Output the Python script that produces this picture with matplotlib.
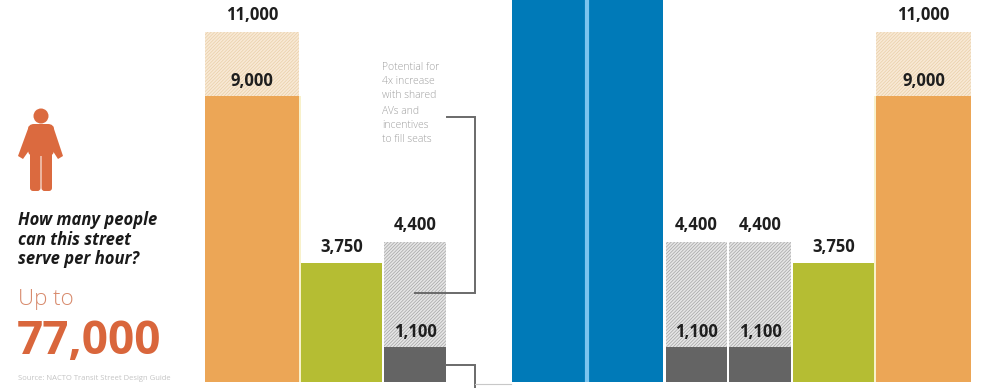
import matplotlib
matplotlib.use('Agg')
import matplotlib.pyplot as plt
from matplotlib.patches import Circle, FancyBboxPatch, Polygon

# People per hour for each lane, left to right across the street
lane_values = [9000, 3750, 1100, 17150, 17150, 1100, 1100, 3750, 9000]
lane_potential = [11000, None, 4400, None, None, 4400, 4400, None, 11000]
lane_kinds = ['walk', 'bike', 'car', 'transit', 'transit', 'car', 'car', 'bike', 'walk']
total_label = '77,000'

# Lane edges in pixels
lefts = [205, 301, 384, 512, 589, 666, 729, 793, 876]
rights = [299, 382, 446, 585, 663, 727, 791, 874, 971]

solid = {'walk': '#eca656', 'bike': '#b5bd33', 'car': '#646464', 'transit': '#007ab8'}
pale = {'walk': '#f8e9d5', 'car': '#e6e6e6'}
hatch_col = {'walk': '#e9cfa8', 'car': '#a4a4a4'}

PX_PER_UNIT = 0.0318
BASE_Y = 382
W, H = 983, 388

plt.rcParams['font.family'] = ['Open Sans', 'DejaVu Sans']
plt.rcParams['hatch.linewidth'] = 0.5

fig = plt.figure(figsize=(W / 100, H / 100), dpi=100)
ax = fig.add_axes([0, 0, 1, 1])
ax.set_xlim(0, W)
ax.set_ylim(-(H - BASE_Y) / PX_PER_UNIT, BASE_Y / PX_PER_UNIT)
ax.axis('off')

# Overlay in pixel coordinates for the annotation bits
ov = fig.add_axes([0, 0, 1, 1], facecolor='none')
ov.set_xlim(0, W)
ov.set_ylim(H, 0)
ov.axis('off')

for x0, x1, val, pot, kind in zip(lefts, rights, lane_values, lane_potential, lane_kinds):
    width = x1 - x0
    if pot is not None:
        ax.bar(x0, pot, width=width, align='edge', color=pale[kind],
               edgecolor=hatch_col[kind], hatch='//////////', linewidth=0)
        ax.annotate(f'{pot:,}', (x0 + width / 2, pot), xytext=(0, 12.5), textcoords='offset points',
                    ha='center', va='center', fontsize=12, fontweight='bold', color='#1e1e1e')
    ax.bar(x0, val, width=width, align='edge', color=solid[kind], linewidth=0)
    if kind != 'transit':
        ax.annotate(f'{val:,}', (x0 + width / 2, val), xytext=(0, 11), textcoords='offset points',
                    ha='center', va='center', fontsize=12, fontweight='bold', color='#1e1e1e')

# Thin separators between lanes
ov.plot([587, 587], [0, BASE_Y], color='#7cc4ee', lw=3, solid_capstyle='butt')
for x in [300, 875]:
    ov.plot([x, x], [96, BASE_Y], color='#f7efc0', lw=1.2, solid_capstyle='butt')

# Person icon
person = '#db6a3f'
ov.add_patch(Circle((41, 116), 7.5, color=person, linewidth=0))
ov.add_patch(FancyBboxPatch((28, 124), 26, 32, boxstyle='round,pad=0,rounding_size=6',
                            color=person, linewidth=0))
ov.add_patch(Polygon([(29, 126), (18, 156), (23, 159), (35, 142)], closed=True, color=person, linewidth=0))
ov.add_patch(Polygon([(53, 126), (63, 156), (58, 159), (47, 142)], closed=True, color=person, linewidth=0))
ov.add_patch(FancyBboxPatch((30, 150), 10.5, 41, boxstyle='round,pad=0,rounding_size=3',
                            color=person, linewidth=0))
ov.add_patch(FancyBboxPatch((41.5, 150), 10.5, 41, boxstyle='round,pad=0,rounding_size=3',
                            color=person, linewidth=0))

for y, line in zip([220, 240, 259], ['How many people', 'can this street', 'serve per hour?']):
    ov.text(18, y, line, fontsize=12, fontweight='bold', style='italic', color='#1a1a1a',
            ha='left', va='center')
ov.text(18, 299, 'Up to', fontsize=16, fontweight='light', color='#d88a6c', ha='left', va='center')
ov.text(17, 341, total_label, fontsize=33, fontweight='bold', color='#d9663c', ha='left', va='center')
ov.text(18, 379, 'Source: NACTO Transit Street Design Guide', fontsize=5.5, color='#c4c4c4',
        ha='left', va='center')

# Note about the car lanes and its connectors
note = ['Potential for', '4x increase', 'with shared', 'AVs and', 'incentives', 'to fill seats']
for y, line in zip([67, 82, 96, 111, 125, 139], note):
    ov.text(382, y, line, fontsize=7.5, fontweight='light', color='#a0a0a0', ha='left', va='center')

line_col = '#6a6a6a'
ov.plot([447, 475, 475, 415], [117, 117, 293, 293], color=line_col, lw=1.4, solid_joinstyle='miter')
ov.plot([446, 475, 475], [365, 365, 388], color=line_col, lw=1.4, solid_joinstyle='miter')
ov.plot([475, 511], [383.5, 383.5], color='#c8c8c8', lw=0.8)

fig.savefig('out.png', dpi=100)
